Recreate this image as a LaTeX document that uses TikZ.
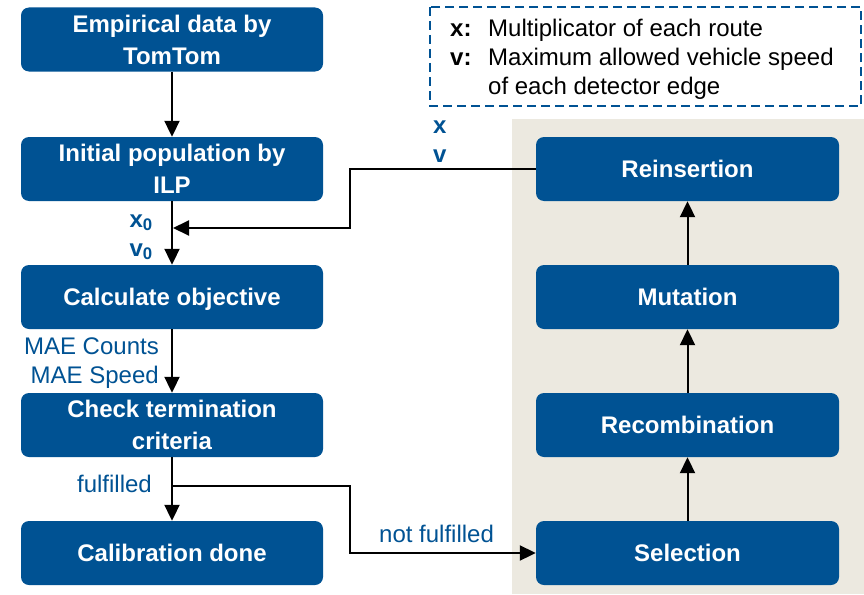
\documentclass[tikz,border=0pt]{standalone}
\usepackage{fontspec}
\setmainfont{Liberation Sans}
\usetikzlibrary{arrows.meta}
\definecolor{tumblue}{RGB}{0,82,147}
\definecolor{panelbeige}{RGB}{236,233,224}

\begin{document}
\begin{tikzpicture}[x=1pt,y=-1pt,
  stepbox/.style={rectangle, rounded corners=8pt, fill=tumblue, text=white,
    font=\fontsize{24}{32}\selectfont\bfseries, align=center, text depth=0pt,
    minimum width=302pt, minimum height=64pt, inner sep=0pt},
  flow/.style={line width=2pt, -{Triangle[length=16pt,width=15pt]}},
  lbl/.style={text=tumblue, font=\fontsize{24}{29}\selectfont, inner sep=0pt},
  blbl/.style={text=tumblue, font=\fontsize{24}{29}\selectfont\bfseries, inner sep=0pt},
  legend/.style={font=\fontsize{24}{29}\selectfont, inner sep=0pt},
  blegend/.style={font=\fontsize{24}{29}\selectfont\bfseries, inner sep=0pt}]

\useasboundingbox (0,0) rectangle (864,594);

% panel of the evolutionary loop
\fill[panelbeige] (512,119) rectangle (864,594);

% legend
\draw[tumblue, line width=2pt, dash pattern=on 9pt off 5pt] (430,7) rectangle (861,106);
\node[blegend, anchor=base west] (lx)  at (450,36.5) {x:};
\node[legend,  anchor=base west] (lxt) at (488,36.5) {Multiplicator of each route};
\node[blegend, anchor=base west] (lv)  at (450,65.5) {v:};
\node[legend,  anchor=base west] (lvt) at (488,65.5) {Maximum allowed vehicle speed};
\node[legend,  anchor=base west] (lvu) at (488,94.5) {of each detector edge};

% main flow
\node[stepbox] (emp)  at (172,39.5) {Empirical data by\\TomTom};
\node[stepbox] (ilp)  at (172,169)  {Initial population by\\ILP};
\node[stepbox] (obj)  at (172,297)  {Calculate objective};
\node[stepbox] (chk)  at (172,425)  {Check termination\\criteria};
\node[stepbox] (done) at (172,553)  {Calibration done};

% evolutionary operators
\node[stepbox, minimum width=303pt] (rein) at (687.5,169) {Reinsertion};
\node[stepbox, minimum width=303pt] (mut)  at (687.5,297) {Mutation};
\node[stepbox, minimum width=303pt] (rec)  at (687.5,425) {Recombination};
\node[stepbox, minimum width=303pt] (sel)  at (687.5,553) {Selection};

% helper points
\coordinate (fbk)  at (350,228);
\coordinate (fbj)  at (173,228);
\coordinate (br)   at (172,486);
\coordinate (brk)  at (350,553);

% connectors
\draw[flow] (emp.south) -- (ilp.north);
\draw[flow] (ilp.south) -- (obj.north);
\draw[flow] (rein.west) -| (fbk) -- (fbj);
\draw[flow] (obj.south) -- (chk.north);
\draw[flow] (chk.south) -- (done.north);
\draw[flow] (br) -| (brk) -- (sel.west);
\draw[flow] (sel.north) -- (rec.south);
\draw[flow] (rec.north) -- (mut.south);
\draw[flow] (mut.north) -- (rein.south);

% connector labels
\node[blbl, anchor=base east] (x0) at (153,227) {x\textsubscript{0}};
\node[blbl, anchor=base east] (v0) at (153,256) {v\textsubscript{0}};
\node[blbl, anchor=base west] (xr) at (433,133) {x};
\node[blbl, anchor=base west] (vr) at (433,162) {v};
\node[lbl, anchor=base east] (maec) at (159,354) {MAE Counts};
\node[lbl, anchor=base east] (maes) at (159,383) {MAE Speed};
\node[lbl, anchor=base east] (ful)  at (152,492) {fulfilled};
\node[lbl, anchor=base west] (nful) at (379,542) {not fulfilled};
\end{tikzpicture}
\end{document}
